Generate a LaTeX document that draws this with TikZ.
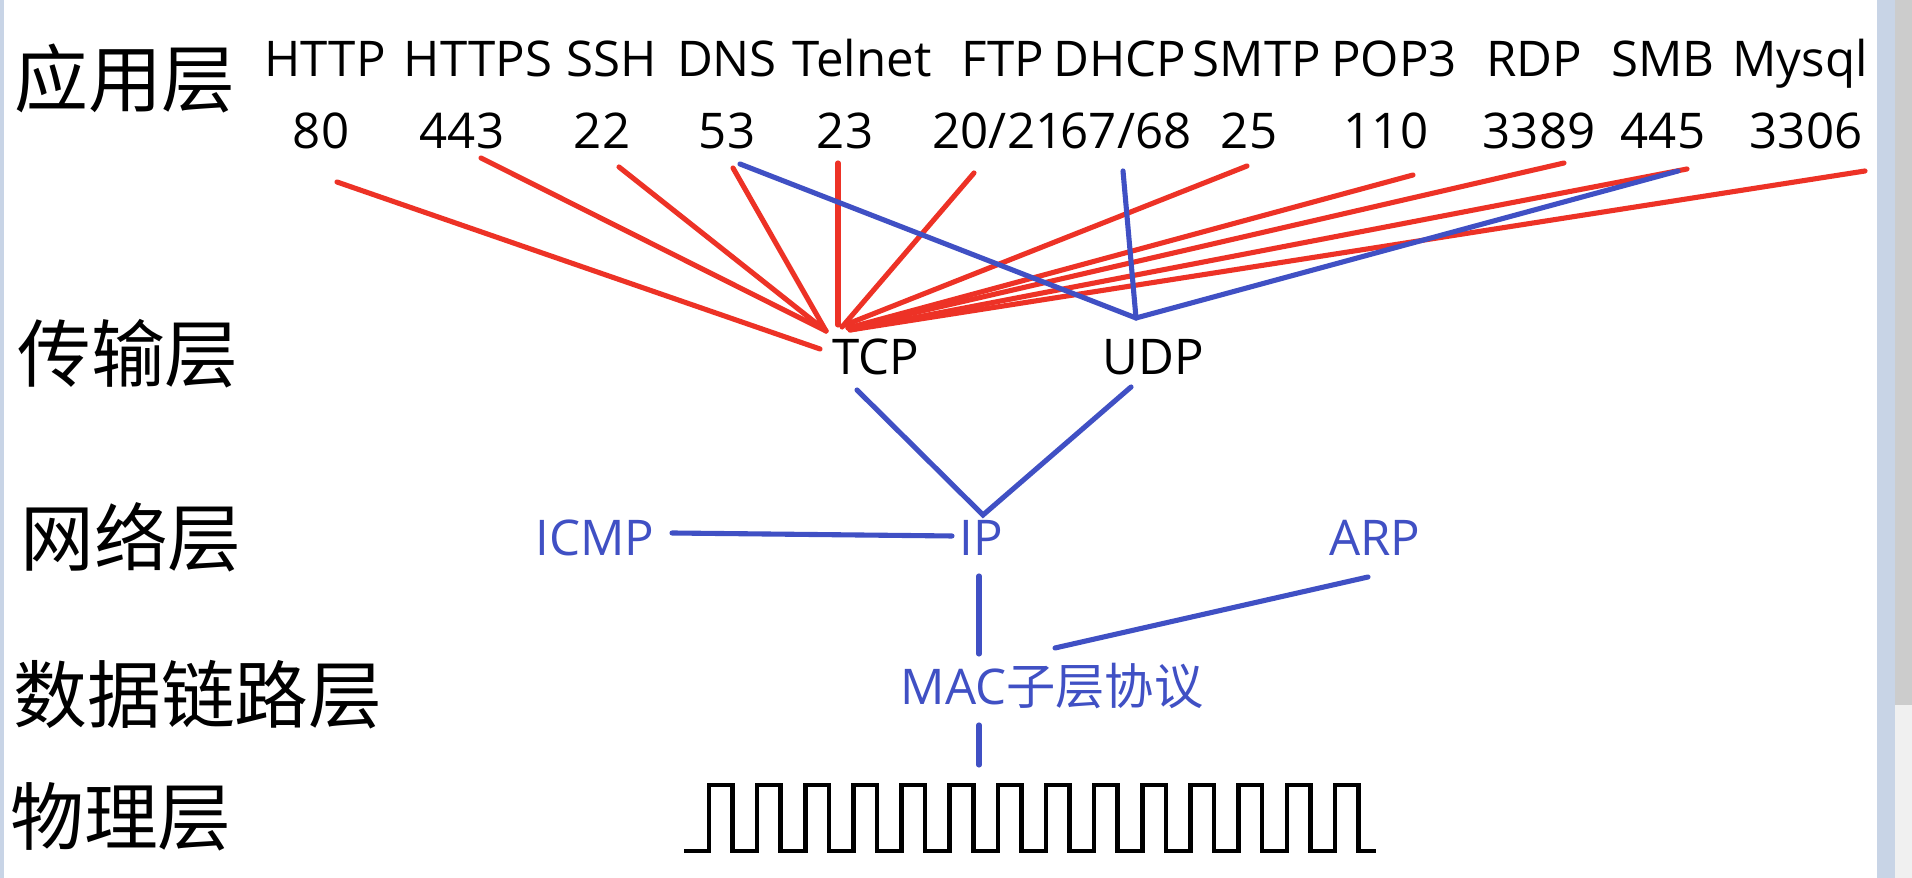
\documentclass[tikz,border=0pt]{standalone}
\usepackage{fontspec}
\setmainfont{Open Sans}
\newfontfamily\cjk{Noto Sans CJK SC}
\definecolor{linkred}{RGB}{237,50,38}
\definecolor{linkblue}{RGB}{64,80,196}
\definecolor{barblue}{RGB}{200,212,230}

\begin{document}
\begin{tikzpicture}[x=0.1mm, y=-0.1mm,
    layer/.style={font={\cjk\fontsize{21}{24}\selectfont}, inner sep=0pt},
    proto/.style={font={\fontsize{14}{17}\selectfont}, inner sep=0pt, anchor=base},
    bproto/.style={proto, text=linkblue},
    redlink/.style={draw=linkred, line width=1.45pt, line cap=round},
    bluelink/.style={draw=linkblue, line width=1.45pt, line cap=round},
    wave/.style={draw=black, line width=1.3pt}]

    % 画面 1912 x 878 (y は下向き)
    \fill[white] (0,0) rectangle (1912,878);
    \useasboundingbox (0,0) rectangle (1912,878);

    % 窓の縁とスクロールバー
    \fill[barblue] (0,0) rectangle (4,878);
    \fill[barblue] (1877,0) rectangle (1895,878);
    \fill[black!20] (1895,0) rectangle (1912,705);
    \fill[black!6] (1895,705) rectangle (1912,878);

    % 層の名前
    \node[layer] (app) at (125,79) {应用层};
    \node[layer] (trans) at (128,354) {传输层};
    \node[layer] (net) at (131,537) {网络层};
    \node[layer] (link) at (198,695) {数据链路层};
    \node[layer] (phy) at (121,817) {物理层};

    % アプリケーション層のプロトコル
    \node[proto] (http) at (325,77) {HTTP};
    \node[proto] (https) at (478,77) {HTTPS};
    \node[proto] (ssh) at (612,77) {SSH};
    \node[proto] (dns) at (727,77) {DNS};
    \node[proto] (telnet) at (862,77) {Telnet};
    \node[proto] (ftp) at (1003,77) {FTP};
    \node[proto] (dhcp) at (1120,77) {DHCP};
    \node[proto] (smtp) at (1257,77) {SMTP};
    \node[proto] (pop) at (1394,77) {POP3};
    \node[proto] (rdp) at (1534,77) {RDP};
    \node[proto] (smb) at (1663,77) {SMB};
    \node[proto] (mysql) at (1800,77) {Mysql};

    % ポート番号
    \node[proto] (n80) at (321,149) {80};
    \node[proto] (n443) at (462,149) {443};
    \node[proto] (n22) at (602,149) {22};
    \node[proto] (n53) at (727,149) {53};
    \node[proto] (n23) at (845,149) {23};
    \node[proto] (n2021) at (998,149) {20/21};
    \node[proto] (n6768) at (1126,149) {67/68};
    \node[proto] (n25) at (1249,149) {25};
    \node[proto] (n110) at (1386,149) {110};
    \node[proto] (n3389) at (1539,149) {3389};
    \node[proto] (n445) at (1663,149) {445};
    \node[proto] (n3306) at (1806,149) {3306};

    % 下の層
    \node[proto] (tcp) at (876,375) {TCP};
    \node[proto] (udp) at (1153,375) {UDP};
    \node[bproto] (icmp) at (595,556) {ICMP};
    \node[bproto] (ip) at (981,556) {IP};
    \node[bproto] (arp) at (1375,556) {ARP};
    \node[bproto] (mac) at (1052,705) {MAC{\cjk 子层协议}};

    % 線の端点 (番号の下)
    \coordinate (p80) at (337,182);
    \coordinate (p443) at (481,158);
    \coordinate (p22) at (619,167);
    \coordinate (p53r) at (733,168);
    \coordinate (p53b) at (740,164);
    \coordinate (p23) at (838,163);
    \coordinate (p2021) at (974,173);
    \coordinate (p6768) at (1123,171);
    \coordinate (p25) at (1247,166);
    \coordinate (p110) at (1413,175);
    \coordinate (p3389) at (1564,163);
    \coordinate (p445r) at (1687,169);
    \coordinate (p445b) at (1678,171);
    \coordinate (p3306) at (1865,171);

    % 線の端点 (TCP, UDP, IP, MAC の周り)
    \coordinate (tcpL) at (820,349);
    \coordinate (tcpA) at (826,331);
    \coordinate (tcpT) at (838,325);
    \coordinate (tcpF) at (842,327);
    \coordinate (tcpS) at (845,325);
    \coordinate (tcpR) at (848,328);
    \coordinate (tcpM) at (850,330);
    \coordinate (udpT) at (1136,318);
    \coordinate (tcpB) at (857,390);
    \coordinate (udpB) at (1131,387);
    \coordinate (ipT) at (983,515);
    \coordinate (ipL) at (952,536);
    \coordinate (ipB) at (979,576);
    \coordinate (icmpR) at (672,533);
    \coordinate (arpB) at (1368,577);
    \coordinate (macT) at (979,654);
    \coordinate (macR) at (1055,648);
    \coordinate (macB) at (979,725);
    \coordinate (waveT) at (979,765);

    % TCP へ (赤)
    \draw[redlink] (p80) -- (tcpL);
    \draw[redlink] (p443) -- (tcpA);
    \draw[redlink] (p22) -- (tcpA);
    \draw[redlink] (p53r) -- (tcpA);
    \draw[redlink] (p23) -- (tcpT);
    \draw[redlink] (p2021) -- (tcpF);
    \draw[redlink] (p25) -- (tcpS);
    \draw[redlink] (p110) -- (tcpR);
    \draw[redlink] (p3389) -- (tcpR);
    \draw[redlink] (p445r) -- (tcpM);
    \draw[redlink] (p3306) -- (tcpM);

    % UDP へ (青)
    \draw[bluelink] (p53b) -- (udpT);
    \draw[bluelink] (p6768) -- (udpT);
    \draw[bluelink] (p445b) -- (udpT);

    % 下の層の線
    \draw[bluelink] (tcpB) -- (ipT) -- (udpB);
    \draw[bluelink] (icmpR) -- (ipL);
    \draw[bluelink] (ipB) -- (macT);
    \draw[bluelink] (arpB) -- (macR);
    \draw[bluelink] (macB) -- (waveT);

    % 物理層の信号
    \draw[wave] (684,851)
        \foreach \i in {0,...,13} {
            -- (709+48.15*\i,851) -- ++(0,-66) -- ++(23.5,0) -- ++(0,66)
        } -- (1376,851);

\end{tikzpicture}
\end{document}
